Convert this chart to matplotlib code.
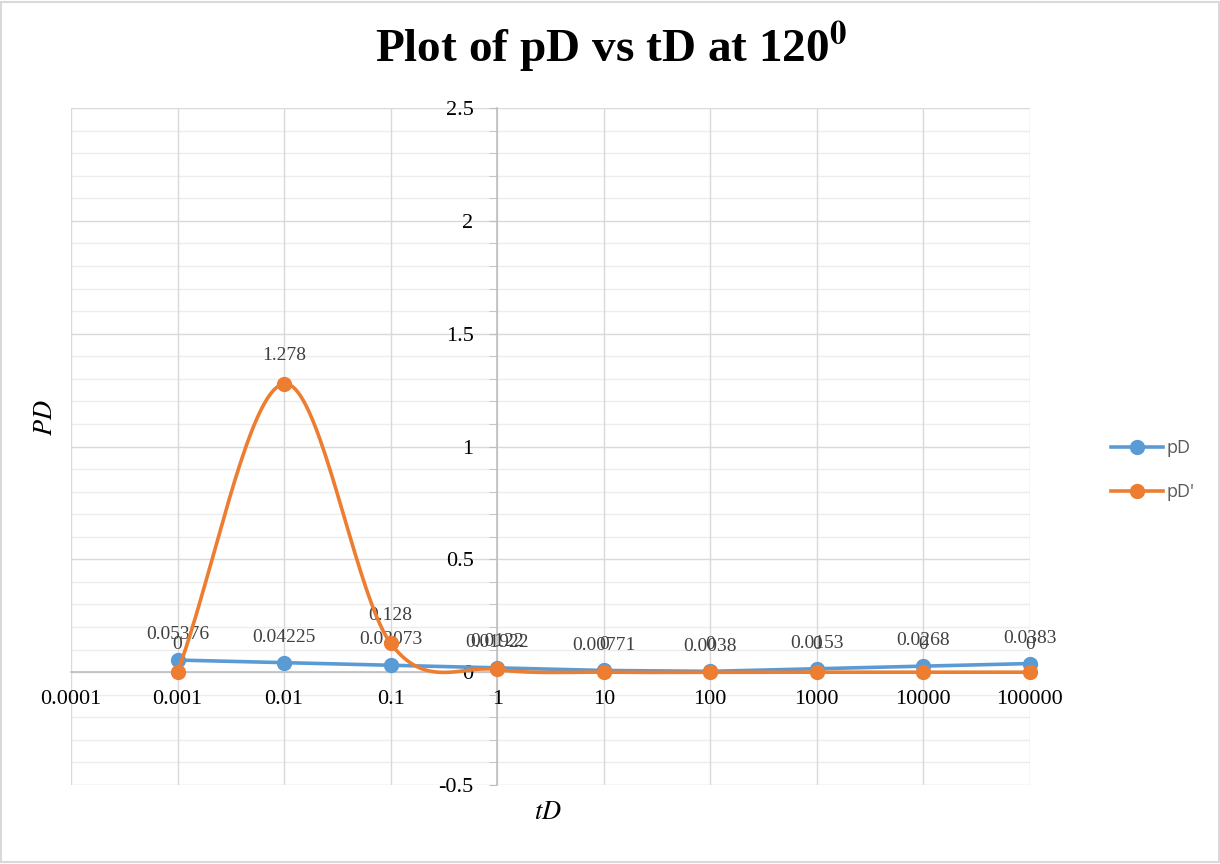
import matplotlib
matplotlib.use('Agg')
import matplotlib.pyplot as plt
from matplotlib.patches import Rectangle
from matplotlib.lines import Line2D
import numpy as np

plt.rcParams['mathtext.fontset'] = 'stix'

BLUE = '#5B9BD5'
ORANGE = '#ED7D31'
GRID_MAJOR = '#D9D9D9'
GRID_MINOR = '#EDEDED'
AXIS = '#BFBFBF'
LABEL = '#404040'

# data
tD = [0.001, 0.01, 0.1, 1, 10, 100, 1000, 10000, 100000]
pD = [0.05376, 0.04225, 0.03073, 0.01922, 0.00771, 0.0038, 0.0153, 0.0268, 0.0383]
pD_prime = [0, 1.278, 0.128, 0.0122, 0, 0, 0, 0, 0]
pD_labels = ['0.05376', '0.04225', '0.03073', '0.01922', '0.00771', '0.0038', '0.0153', '0.0268', '0.0383']
pDp_labels = ['0', '1.278', '0.128', '0.0122', '0', '0', '0', '0', '0']
x_ticks = [0.0001, 0.001, 0.01, 0.1, 1, 10, 100, 1000, 10000, 100000]
x_ticklabels = ['0.0001', '0.001', '0.01', '0.1', '1', '10', '100', '1000', '10000', '100000']
y_ticks = [-0.5, 0, 0.5, 1, 1.5, 2, 2.5]


def smooth(xs, ys, n=40):
    # Catmull-Rom style smoothing in log-x space (like Excel's smoothed line)
    lx = np.log10(xs)
    ys = np.asarray(ys, dtype=float)
    px = np.concatenate([[2 * lx[0] - lx[1]], lx, [2 * lx[-1] - lx[-2]]])
    py = np.concatenate([[ys[0]], ys, [ys[-1]]])
    out_x, out_y = [], []
    t = np.linspace(0, 1, n)
    for i in range(1, len(px) - 2):
        x0, x1, x2, x3 = px[i - 1:i + 3]
        y0, y1, y2, y3 = py[i - 1:i + 3]
        if i == 1:
            tx0, ty0 = x2 - x1, y2 - y1
        else:
            tx0, ty0 = (x2 - x0) / 2, (y2 - y0) / 2
        if i == len(px) - 3:
            tx1, ty1 = x2 - x1, y2 - y1
        else:
            tx1, ty1 = (x3 - x1) / 2, (y3 - y1) / 2
        cx = [x1, x1 + tx0 / 3, x2 - tx1 / 3, x2]
        cy = [y1, y1 + ty0 / 3, y2 - ty1 / 3, y2]
        b = [(1 - t) ** 3, 3 * (1 - t) ** 2 * t, 3 * (1 - t) * t ** 2, t ** 3]
        out_x.append(sum(bi * c for bi, c in zip(b, cx)))
        out_y.append(sum(bi * c for bi, c in zip(b, cy)))
    return 10 ** np.concatenate(out_x), np.concatenate(out_y)


fig = plt.figure(figsize=(12.2, 8.64), dpi=100)
fig.patches.append(Rectangle((0.001, 0.002), 0.998, 0.996, transform=fig.transFigure,
                             fill=False, edgecolor='#D9D9D9', linewidth=1.5))
ax = fig.add_axes([0.0582, 0.0914, 0.786, 0.7836])
ax.set_xscale('log')
ax.set_xlim(0.0001, 100000)
ax.set_ylim(-0.5, 2.5)

# gridlines
for yv in np.arange(-0.5, 2.51, 0.1):
    major = abs(yv * 2 - round(yv * 2)) < 1e-6
    ax.axhline(yv, color=GRID_MAJOR if major else GRID_MINOR, lw=1.0, zorder=0)
for xv in x_ticks:
    ax.axvline(xv, color=GRID_MAJOR, lw=1.0, zorder=0)

for s in ['top', 'right']:
    ax.spines[s].set_visible(False)
ax.spines['left'].set_position(('data', 1))
ax.spines['bottom'].set_position(('data', 0))
ax.spines['left'].set_color(AXIS)
ax.spines['bottom'].set_color(AXIS)
ax.spines['left'].set_linewidth(1.2)
ax.spines['bottom'].set_linewidth(1.2)
ax.spines['left'].set_zorder(1)
ax.spines['bottom'].set_zorder(1)

ax.set_yticks(y_ticks)
ax.set_yticklabels([f'{v:g}' for v in y_ticks], fontfamily='Liberation Serif', fontsize=16, color='black')
ax.set_yticks(np.arange(-0.5, 2.51, 0.1), minor=True)
ax.tick_params(axis='y', which='both', length=6, color=AXIS, direction='out', pad=11)
ax.set_xticks(x_ticks)
ax.set_xticklabels(x_ticklabels, fontfamily='Liberation Serif', fontsize=16)
ax.xaxis.set_minor_locator(matplotlib.ticker.NullLocator())
ax.tick_params(axis='x', length=0, pad=13)

# series
ax.plot(tD, pD, color=BLUE, lw=2.6, marker='o', ms=10, zorder=3, clip_on=False)
sx, sy = smooth(tD, pD_prime)
ax.plot(sx, sy, color=ORANGE, lw=2.6, zorder=4, clip_on=False)
ax.plot(tD, pD_prime, ls='none', color=ORANGE, marker='o', ms=10, zorder=4, clip_on=False)

for x, y, lab in zip(tD, pD, pD_labels):
    ax.annotate(lab, (x, y), xytext=(0, 15), textcoords='offset points', ha='center',
                va='baseline', fontsize=14, color=LABEL, fontfamily='Liberation Serif')
for x, y, lab in zip(tD, pD_prime, pDp_labels):
    ax.annotate(lab, (x, y), xytext=(0, 17), textcoords='offset points', ha='center',
                va='baseline', fontsize=14, color=LABEL, fontfamily='Liberation Serif')

fig.text(0.501, 0.945, r'Plot of pD vs tD at 120$^{\mathbf{0}}$', ha='center', va='center',
         fontsize=34, fontweight='bold', fontfamily='Liberation Serif')
fig.text(0.037, 0.517, r'$PD$', rotation=90, ha='center', va='center', fontsize=19)
fig.text(0.449, 0.06, r'$tD$', ha='center', va='center', fontsize=19)

handles = [Line2D([], [], color=BLUE, lw=2.6, marker='o', ms=10),
           Line2D([], [], color=ORANGE, lw=2.6, marker='o', ms=10)]
fig.legend(handles, ['pD', "pD'"], loc='center left', bbox_to_anchor=(0.897, 0.456),
           frameon=False, labelcolor='#595959', handlelength=2.9,
           handletextpad=0.2, labelspacing=1.45, prop={'family': 'Open Sans', 'size': 13})

plt.savefig('out.png', dpi=100)
